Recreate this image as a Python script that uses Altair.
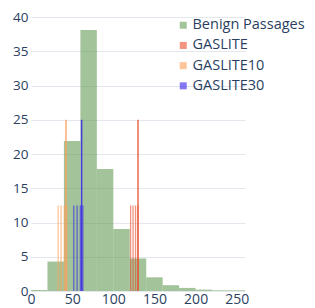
import altair as alt
import pandas as pd

# Histogram of benign passages (percent per 20-unit bin)
bin_start = [0, 20, 40, 60, 80, 100, 120, 140, 160, 180, 200, 220, 240]
bin_end = [20, 40, 60, 80, 100, 120, 140, 160, 180, 200, 220, 240, 260]
benign_pct = [0.15, 4.3, 21.9, 38.1, 17.8, 9.05, 4.75, 2.0, 0.85, 0.45, 0.2, 0.1, 0.1]

# Attack markers (vertical lines)
series_names = ["Benign Passages", "GASLITE", "GASLITE10", "GASLITE30"]
series_colors = ["#669D57", "#E94D2B", "#FF9E57", "#3420EC"]

gaslite_short = [121, 124, 127, 130]
gaslite10_short = [33, 36.5, 40.5, 43.5]
gaslite30_short = [52, 56, 60, 63]
short_height = 12.5

tall_series = ["GASLITE", "GASLITE10", "GASLITE30"]
tall_pos = [130, 42.5, 61.5]
tall_height = 25

x_ticks = [0, 50, 100, 150, 200, 250]
y_ticks = [0, 5, 10, 15, 20, 25, 30, 35, 40]

bars = pd.DataFrame({"start": bin_start, "end": bin_end, "pct": benign_pct,
                     "base": [0] * len(bin_start),
                     "series": ["Benign Passages"] * len(bin_start)})

short_rows = []
for name, xs in zip(["GASLITE", "GASLITE10", "GASLITE30"],
                    [gaslite_short, gaslite10_short, gaslite30_short]):
    for v in xs:
        short_rows.append({"start": v, "pct": short_height, "base": 0, "series": name})
short_df = pd.DataFrame(short_rows)
tall_df = pd.DataFrame({"start": tall_pos, "pct": [tall_height] * 3, "base": [0] * 3,
                        "series": tall_series})

font = "Open Sans"
tc = "#2a3f5f"

xscale = alt.Scale(domain=[0, 260], nice=False, zero=False)
yscale = alt.Scale(domain=[0, 40.15], nice=False)

color = alt.Color(
    "series:N",
    scale=alt.Scale(domain=series_names, range=series_colors),
    legend=alt.Legend(
        title=None, orient="none", legendX=145, legendY=2,
        symbolType="square", symbolSize=49, symbolOpacity=0.6, symbolStrokeWidth=0,
        labelFontSize=14.5, labelFont=font, labelColor=tc,
        rowPadding=5.2, labelOffset=2, padding=0, symbolOffset=0,
    ),
)

xaxis = alt.Axis(title=None, values=x_ticks, grid=False, ticks=False, labelFlush=False,
                 domain=False, labelFontSize=14, labelFont=font, labelColor=tc, labelPadding=1)
yaxis = alt.Axis(title=None, values=y_ticks, grid=True, labelFlush=False,
                 gridColor="#E3E7EE", gridWidth=1, ticks=False, domain=False,
                 labelFontSize=13.5, labelFont=font, labelColor=tc, labelPadding=3)

X = alt.X("start:Q", scale=xscale, axis=xaxis)
Y = alt.Y("pct:Q", scale=yscale, axis=yaxis)

bar_layer = alt.Chart(bars).mark_bar(opacity=0.6).encode(
    x=X, x2="end:Q", y=Y, y2="base:Q", color=color,
)

short_layer = alt.Chart(short_df).mark_rule(opacity=0.6, strokeWidth=1.3).encode(
    x=X, y=Y, y2="base:Q", color=color,
)

tall_layer = alt.Chart(tall_df).mark_rule(opacity=0.85, strokeWidth=1.5).encode(
    x=X, y=Y, y2="base:Q", color=color,
)

chart = alt.layer(bar_layer, short_layer, tall_layer).properties(
    width=214, height=275,
    autosize="none",
    padding={"left": 23, "top": 8, "right": 62, "bottom": 15},
).configure_view(stroke=None)

chart.save("out.html", embed_options={"renderer": "svg", "actions": False})
